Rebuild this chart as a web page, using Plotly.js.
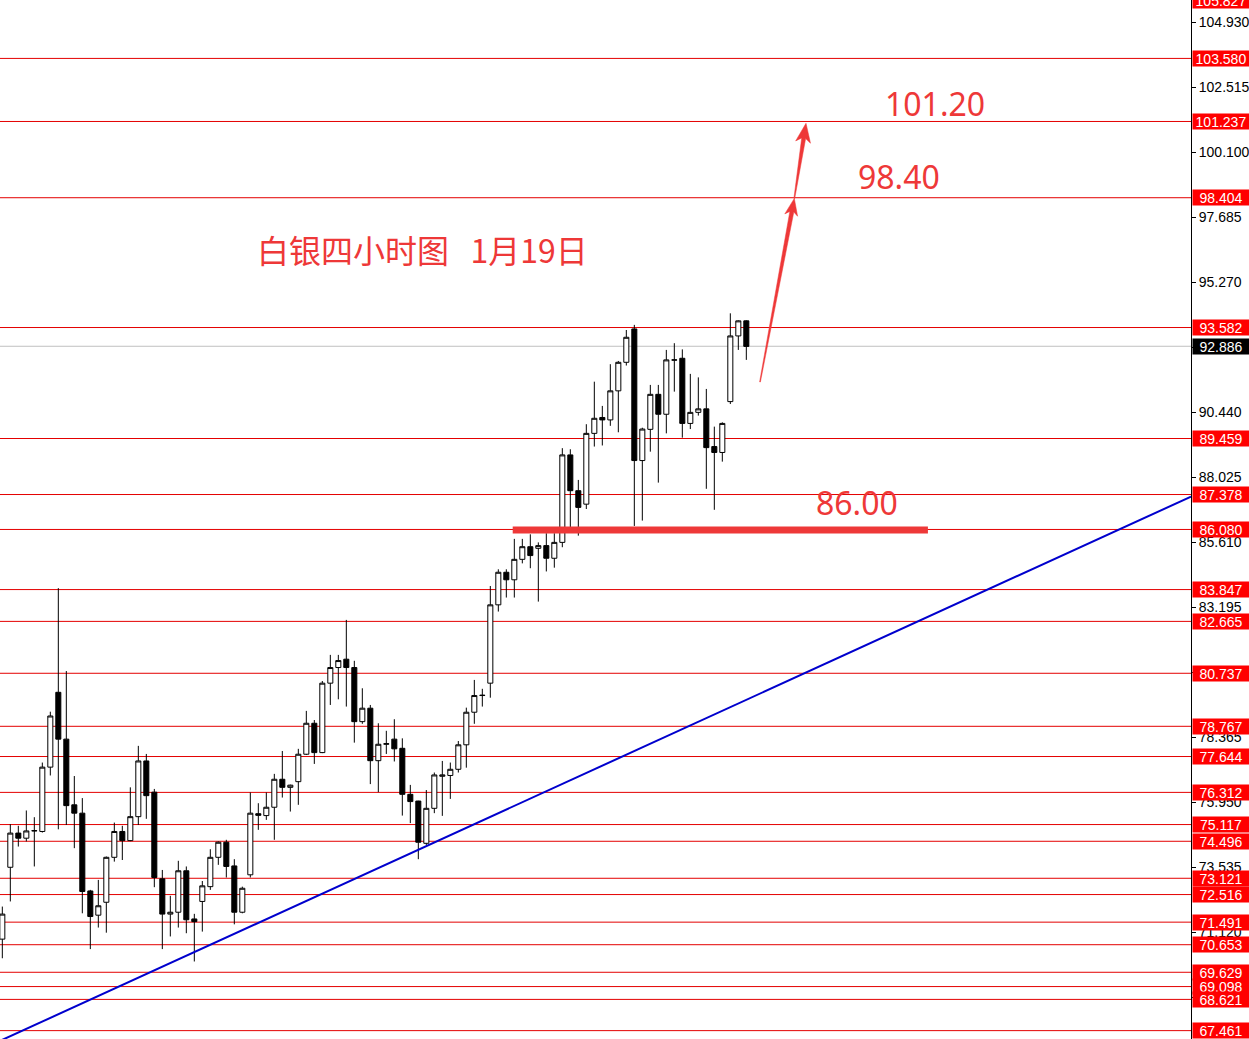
<!DOCTYPE html>
<html><head><meta charset="utf-8">
<script src="https://cdn.plot.ly/plotly-3.0.1.min.js"></script>
<style>html,body{margin:0;padding:0;background:#fff;overflow:hidden}#chart{width:1249px;height:1039px}</style>
</head><body><div id="chart"></div>
<script>
// ---- data (silver, 4-hour bars) ----
const openP  = [70.86,73.53,74.80,74.61,74.88,74.86,77.25,80.03,78.29,75.85,75.54,72.65,71.75,72.23,73.90,74.86,74.52,75.41,77.48,76.32,
  73.10,71.79,71.86,73.40,71.61,72.26,72.81,73.90,74.46,73.58,71.86,73.25,75.52,75.45,75.76,76.80,76.50,76.71,77.73,78.88,
  77.79,80.37,80.95,81.26,80.95,78.94,79.44,77.49,78.10,78.29,77.95,76.24,75.99,74.42,75.72,76.91,76.94,77.17,78.08,79.29,
  79.91,80.37,83.28,84.49,84.21,84.97,85.44,85.38,85.48,85.01,85.60,88.85,87.52,87.02,89.65,90.24,90.15,91.23,92.29,93.53,
  88.64,89.80,91.10,90.36,92.37,92.44,90.02,90.43,90.56,89.16,88.94,90.83,93.27,93.83];
const highP  = [72.07,75.13,75.07,75.64,75.39,77.42,79.31,83.90,80.82,76.92,76.10,72.69,73.06,73.93,75.19,75.07,76.50,78.04,77.74,76.44,
  73.43,72.47,73.77,73.56,71.80,73.02,74.20,74.49,74.55,73.83,72.81,76.31,75.91,76.31,77.00,77.85,76.60,77.93,79.34,79.00,
  80.45,81.42,81.42,82.72,81.20,80.18,79.56,78.88,78.60,79.03,78.32,76.59,76.00,76.40,77.05,77.48,77.42,78.22,79.46,80.49,
  80.16,83.98,84.60,84.60,85.73,85.73,85.90,85.60,85.94,85.94,89.10,89.06,87.92,89.99,91.57,90.67,92.22,92.34,93.49,93.68,
  89.86,91.45,91.45,92.75,93.00,92.77,91.86,91.73,91.30,89.90,90.06,94.11,93.85,93.85];
const lowP   = [70.15,72.26,74.30,74.49,73.56,74.82,76.94,74.94,75.10,74.24,71.82,70.49,71.29,71.10,73.74,73.80,74.50,75.10,75.33,72.79,
  70.49,70.96,71.29,71.08,70.03,71.14,72.69,73.62,73.15,71.41,71.82,73.15,74.92,75.29,74.55,76.12,75.60,75.85,77.70,77.37,
  77.77,79.56,79.77,79.50,78.16,78.86,76.62,76.32,77.74,77.46,75.45,75.17,73.83,74.36,75.54,75.44,76.07,77.05,77.23,78.86,
  79.50,79.83,83.03,83.55,83.55,84.82,84.64,83.40,84.52,84.66,85.42,86.06,85.85,86.84,89.16,89.20,89.93,89.69,92.17,86.21,
  86.41,88.97,87.82,89.65,91.20,89.49,89.81,90.31,87.59,86.81,88.60,90.74,92.75,92.38];
const closeP = [71.79,74.80,74.61,74.88,74.89,77.25,79.15,78.29,75.82,75.54,72.63,71.70,72.10,73.90,74.86,74.52,75.41,77.48,76.19,73.15,
  71.79,71.86,73.40,71.58,71.51,72.84,73.90,74.46,73.56,71.86,72.75,75.54,75.46,75.76,76.80,76.50,76.58,77.73,78.88,77.79,
  80.37,80.95,81.21,80.95,78.94,79.44,77.49,78.10,78.12,77.93,76.24,75.97,74.46,75.72,76.96,76.96,77.17,78.08,79.29,79.91,
  79.92,83.28,84.49,84.21,84.97,85.44,85.11,85.48,85.01,85.60,88.85,87.52,86.90,89.65,90.21,90.15,91.23,92.29,93.22,88.64,
  89.81,91.10,90.36,92.38,92.38,90.02,90.43,90.56,89.12,88.94,90.02,93.27,93.83,92.88];

// horizontal price levels (red lines with red price tags)
const levels = [105.827,103.580,101.237,98.404,93.582,89.459,87.378,86.080,83.847,82.665,80.737,78.767,77.644,76.312,
  75.117,74.496,73.121,72.516,71.491,70.653,69.629,69.098,68.621,67.461];
const lastPrice = 92.886;
// right axis ticks
const tickValues = [104.930,102.515,100.100,97.685,95.270,92.855,90.440,88.025,85.610,83.195,80.780,78.365,75.950,73.535,71.120,68.705];

// hand-drawn marks (bar index, price)
const trendLine = {x:[-0.29,148.59], y:[67.08,87.30]};
const supportBar = {x:[63.8,115.7], y:86.06};
const arrows = [ {from:[94.71,91.56], to:[99.0,98.38], len:17, hw:6.5},
                 {from:[99.0,98.38],  to:[100.46,101.17], len:19, hw:7.5} ];
const notes = [
  {text:'白银四小时图\u00a0\u00a0\u00a01月19日', x:0.355, y:0.760, font:'Noto Sans CJK SC'},
  {text:'101.20', x:0.785, y:0.900, font:'Noto Sans'},
  {text:'98.40',  x:0.755, y:0.830, font:'Noto Sans'},
  {text:'86.00',  x:0.7196, y:0.516, font:'Noto Sans'}
];

// ---- layout geometry ----
const W = 1249, H = 1039, R = 58;
const PW = W - R, PH = H;
const xRange = [-0.29, 148.585];
const yRange = [67.15, 105.75];
const red = 'rgb(228,0,0)', arrowRed = 'rgb(238,56,56)';

const xs = openP.map((_, i) => i);

const candles = {
  type:'candlestick', x:xs, open:openP, high:highP, low:lowP, close:closeP,
  increasing:{line:{color:'#000', width:1}, fillcolor:'#fff'},
  decreasing:{line:{color:'#000', width:1}, fillcolor:'#000'},
  hoverinfo:'skip', showlegend:false, whiskerwidth:0
};
const trend = {type:'scatter', mode:'lines', x:trendLine.x, y:trendLine.y,
  line:{color:'rgb(0,0,205)', width:2}, hoverinfo:'skip', showlegend:false, cliponaxis:true};

const shapes = [];
levels.forEach(v => shapes.push({type:'line', xref:'paper', x0:0, x1:1, yref:'y', y0:v, y1:v,
  line:{color:red, width:1}, layer:'below'}));
shapes.push({type:'line', xref:'paper', x0:0, x1:1, yref:'y', y0:lastPrice, y1:lastPrice,
  line:{color:'#c0c0c0', width:1}, layer:'below'});
shapes.push({type:'line', xref:'x', yref:'y', x0:supportBar.x[0], x1:supportBar.x[1], y0:supportBar.y, y1:supportBar.y,
  line:{color:arrowRed, width:7}, layer:'above'});

// arrow polygons built in pixel space then mapped back to data space
const toPx = (x, y) => [(x - xRange[0]) / (xRange[1] - xRange[0]) * PW, (yRange[1] - y) / (yRange[1] - yRange[0]) * PH];
const toData = (px, py) => [xRange[0] + px / PW * (xRange[1] - xRange[0]), yRange[1] - py / PH * (yRange[1] - yRange[0])];
arrows.forEach(a => {
  const T = toPx(a.from[0], a.from[1]), P = toPx(a.to[0], a.to[1]);
  const dx = P[0] - T[0], dy = P[1] - T[1], L = Math.hypot(dx, dy);
  const u = [dx / L, dy / L], n = [-u[1], u[0]];
  const B = [P[0] - a.len * u[0], P[1] - a.len * u[1]];
  const Nn = [P[0] - a.len * 0.8 * u[0], P[1] - a.len * 0.8 * u[1]];
  const pts = [
    [T[0] + 0.4 * n[0], T[1] + 0.4 * n[1]],
    [Nn[0] + 2 * n[0], Nn[1] + 2 * n[1]],
    [B[0] + a.hw * n[0], B[1] + a.hw * n[1]],
    P,
    [B[0] - a.hw * n[0], B[1] - a.hw * n[1]],
    [Nn[0] - 2 * n[0], Nn[1] - 2 * n[1]],
    [T[0] - 0.4 * n[0], T[1] - 0.4 * n[1]]
  ].map(p => toData(p[0], p[1]));
  const path = 'M ' + pts.map(p => p[0].toFixed(4) + ',' + p[1].toFixed(4)).join(' L ') + ' Z';
  shapes.push({type:'path', xref:'x', yref:'y', path:path, fillcolor:arrowRed, line:{color:arrowRed, width:0.5}, layer:'above'});
});

const tagFont = {family:'Liberation Sans', size:14, color:'#fff'};
const annotations = [];
levels.forEach(v => {
  const inside = v <= yRange[1];
  annotations.push({xref:'paper', x:1, xanchor:'left', xshift:1,
    yref: inside ? 'y' : 'paper', y: inside ? v : 1, yanchor:'middle',
    text:v.toFixed(3), showarrow:false, bgcolor:'#ff0000', borderpad:0, width:56, height:15, align:'center', font:tagFont});
});
annotations.push({xref:'paper', x:1, xanchor:'left', xshift:1, yref:'y', y:lastPrice, yanchor:'middle',
  text:lastPrice.toFixed(3), showarrow:false, bgcolor:'#000', borderpad:0, width:56, height:15, align:'center', font:tagFont});
notes.forEach(nt => annotations.push({xref:'paper', yref:'paper', x:nt.x, y:nt.y, xanchor:'center', yanchor:'middle',
  text:nt.text, showarrow:false, font:{family:nt.font, size:32, color:arrowRed}}));

const layout = {
  width:W, height:H, margin:{l:0, r:R, t:0, b:0},
  paper_bgcolor:'#fff', plot_bgcolor:'#fff',
  boxgap:0.1, boxgroupgap:0.3,
  xaxis:{range:xRange, visible:false, rangeslider:{visible:false}, fixedrange:true},
  yaxis:{range:yRange, side:'right', showgrid:false, zeroline:false, showline:true, linecolor:'#000', linewidth:1,
    ticks:'outside', ticklen:4, tickwidth:1, tickcolor:'#000',
    tickvals:tickValues, ticktext:tickValues.map(v => v.toFixed(3)),
    tickfont:{family:'Liberation Sans', size:14, color:'#000'}, fixedrange:true},
  shapes:shapes, annotations:annotations, showlegend:false
};
Plotly.newPlot('chart', [trend, candles], layout, {staticPlot:true, displayModeBar:false});
</script></body></html>
